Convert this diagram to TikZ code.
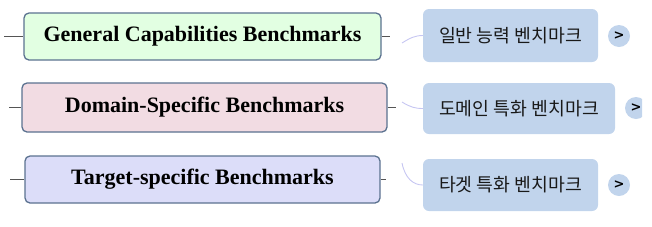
\documentclass[tikz,border=0pt]{standalone}
\usepackage{fontspec}
\setmainfont{Liberation Serif}
\newfontfamily\kr{Noto Sans CJK KR}
\newfontfamily\dvs{DejaVu Sans}
\definecolor{bordc}{HTML}{5B7290}
\definecolor{fillA}{HTML}{E2FFE2}
\definecolor{fillB}{HTML}{F2DCE3}
\definecolor{fillC}{HTML}{DCDDF9}
\definecolor{krc}{HTML}{C1D4EC}
\definecolor{curvec}{HTML}{C6C6F2}
\definecolor{stubc}{HTML}{555555}
\tikzset{
  catbox/.style={draw=bordc, line width=1.3pt, rounded corners=5pt, inner sep=0pt, text=black, font=\fontsize{22}{26}\selectfont\bfseries},
  krbox/.style={fill=krc, rounded corners=6pt, inner sep=0pt, text=black!90, font=\kr\fontsize{18.3}{22}\selectfont},
  morebtn/.style={circle, fill=krc, minimum size=22pt, inner sep=0pt, text=black, font=\dvs\bfseries\fontsize{13}{13}\selectfont},
  stub/.style={draw=stubc, line width=1.3pt},
  link/.style={draw=curvec, line width=0.9pt}
}
\begin{document}
\begin{tikzpicture}[x=1pt,y=-1pt]
\useasboundingbox (0,0) rectangle (652,226);
% category boxes
\node[catbox, fill=fillA, minimum width=357pt, minimum height=47pt] (g) at (202.5,36.5) {General Capabilities Benchmarks};
\node[catbox, fill=fillB, minimum width=365pt, minimum height=49pt] (d) at (204.5,107.5) {Domain-Specific Benchmarks};
\node[catbox, fill=fillC, minimum width=355pt, minimum height=47pt] (t) at (202.5,179.5) {Target-specific Benchmarks};
% stubs
\coordinate (gl) at (4,36.5); \coordinate (gr) at (390,36.5);
\coordinate (dl) at (9,107.5); \coordinate (dr) at (396,107.5);
\coordinate (tl) at (10,179.5); \coordinate (tr) at (386,179.5);
\draw[stub] (gl) -- (g.west); \draw[stub] (g.east) -- (gr);
\draw[stub] (dl) -- (d.west); \draw[stub] (d.east) -- (dr);
\draw[stub] (tl) -- (t.west); \draw[stub] (t.east) -- (tr);
% korean boxes
\node[krbox, minimum width=175pt, minimum height=53pt] (kg) at (510.5,35.5) {일반 능력 벤치마크};
\node[krbox, minimum width=192pt, minimum height=51pt] (kd) at (519,108.5) {도메인 특화 벤치마크};
\node[krbox, minimum width=175pt, minimum height=52pt] (kt) at (510.5,185) {타겟 특화 벤치마크};
% connectors
\coordinate (cg) at (402,43); \coordinate (cd) at (402,102); \coordinate (ct) at (402,163);
\draw[link] (cg) .. controls (410,38) and (415,35.5) .. (kg.west);
\draw[link] (cd) .. controls (410,107) and (415,108.5) .. (kd.west);
\draw[link] (ct) .. controls (405,178) and (413,185) .. (kt.west);
% more buttons
\node[morebtn] (bg) at (619,36) {>};
\begin{scope}
\clip (0,0) rectangle (642,226);
\node[morebtn] (bd) at (636,108) {>};
\end{scope}
\node[morebtn] (bt) at (619,185) {>};
\end{tikzpicture}
\end{document}
